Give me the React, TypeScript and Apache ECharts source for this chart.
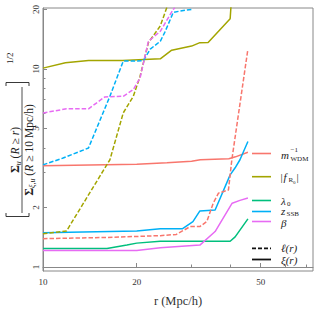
import React, { useEffect, useRef } from 'react';
import * as echarts from 'echarts';

const FONT = '"Liberation Serif", "DejaVu Serif", serif';
const C_WDM = '#F8766D';
const C_FR0 = '#A3A500';
const C_LAM = '#00BF7D';
const C_ZSSB = '#00B0F6';
const C_BETA = '#E76BF3';

const xMajorTicks = [10, 20, 50];
const xMinorTicks = [30, 40, 60, 70];
const yMajorTicks = [1, 2, 5, 10, 20];
const yMinorTicks = [3, 4, 6, 7, 8, 9];

// xi(r) solid lines
const wdmXiR = [10, 20, 25, 30, 32, 39.5, 41.5, 45.5];
const wdmXiV = [3.25, 3.3, 3.36, 3.42, 3.48, 3.52, 3.6, 3.8];
const fr0XiR = [10, 11.8, 14, 18, 23.8, 25.9, 30, 31.9, 33.9, 39.9, 40.4];
const fr0XiV = [10.1, 10.75, 11.04, 11.04, 11.26, 12.45, 13.05, 13.58, 13.6, 17.95, 24];
const lamXiR = [10, 16.05, 18.6, 20, 23.8, 39.9, 41.4, 45.5];
const lamXiV = [1.24, 1.24, 1.29, 1.32, 1.35, 1.35, 1.42, 1.75];
const zssbXiR = [10, 20, 23.8, 28, 30.3, 31.9, 35.7, 39.9, 41.4, 42.9, 45.5];
const zssbXiV = [1.49, 1.52, 1.56, 1.56, 1.695, 1.92, 1.94, 2.92, 3.17, 3.48, 4.3];
const betaXiR = [10, 20, 23.8, 31.9, 35.7, 38.4, 40.5, 42.9, 45.5];
const betaXiV = [1.21, 1.21, 1.25, 1.29, 1.51, 1.83, 2.1, 2.17, 2.23];

// ell(r) dashed lines
const wdmEllR = [10, 16, 23.8, 26.8, 29.7, 31.9, 33.6, 35.2, 36.6, 39.4, 40.4, 45.5];
const wdmEllV = [1.39, 1.41, 1.44, 1.46, 1.6, 1.6, 1.7, 2.1, 2.36, 2.45, 3.48, 12.6];
const fr0EllR = [10, 11.9, 16.4, 18.1, 19.5, 20.5, 21.8, 23.8, 25.0, 25.4];
const fr0EllV = [1.47, 1.52, 3.48, 6.0, 7.28, 9.19, 13.58, 16.5, 20.5, 22];
const zssbEllR = [10, 11.6, 14.0, 16.4, 18.1, 21.0, 22.1, 23.8, 24.6, 26.2, 27.5, 30.0];
const zssbEllV = [3.28, 3.55, 3.99, 7.28, 10.96, 11.0, 12.6, 13.8, 15.3, 19.3, 19.6, 20.0];
const betaEllR = [10, 11.9, 14.0, 15.8, 18.1, 19.5, 20.5, 21.8, 23.8, 26.2, 26.5];
const betaEllV = [6.0, 6.29, 6.29, 7.23, 7.28, 7.87, 9.02, 13.8, 15.5, 20, 20.4];

const X_MIN = 1;
const X_MAX = 1.867;
const Y_MIN = -0.0202;
const Y_MAX = 1.308;

const lg = (v: number) => Math.log10(v);
const pts = (r: number[], v: number[]) => r.map((x, i) => [lg(x), lg(v[i])]);

function lineSeries(name: string, r: number[], v: number[], color: string, dashed: boolean) {
  return {
    name,
    type: 'line',
    data: pts(r, v),
    symbol: 'none',
    clip: true,
    lineStyle: { color, width: 1.5, type: dashed ? [4.5, 2] : 'solid' },
    z: dashed ? 3 : 2,
  };
}

const AXIS_COLOR = '#888';
const LABEL_COLOR = '#333';

function txt(x: number, y: number, text: string, size: number, italic = false, extra: any = {}) {
  return {
    type: 'text',
    x,
    y,
    style: {
      text,
      fontSize: size,
      fontFamily: FONT,
      fontStyle: italic ? 'italic' : 'normal',
      fill: '#222',
      align: 'left',
      verticalAlign: 'middle',
      textAlign: 'left',
      textVerticalAlign: 'middle',
      ...extra,
    },
  };
}

function legLine(y: number, color: string, dashed: boolean, w = 1.6) {
  return {
    type: 'line',
    shape: { x1: 252, y1: y, x2: 271, y2: y },
    style: { stroke: color, lineWidth: w, lineDash: dashed ? [4, 2] : null },
  };
}

const FS = 11.5;
const richBase = {
  t: { fontSize: FS, fontFamily: FONT, lineHeight: 14, fill: '#222' },
  i: { fontSize: FS, fontFamily: FONT, fontStyle: 'italic', lineHeight: 14, fill: '#222' },
  b: { fontSize: FS + 0.5, fontFamily: FONT, fontWeight: 'bold', lineHeight: 14, fill: '#222' },
  subi: { fontSize: 8, fontFamily: FONT, fontStyle: 'italic', lineHeight: 8, verticalAlign: 'bottom', fill: '#222' },
  rel: { fontSize: FS, fontFamily: FONT, lineHeight: 14, fill: '#222', padding: [0, 3, 0, 3] },
};

export default function App() {
  const ref = useRef<HTMLDivElement>(null);
  useEffect(() => {
    if (!ref.current) return;
    const chart = echarts.init(ref.current, null, { renderer: 'svg' });
    const option: any = {
      animation: false,
      grid: {
        left: 43,
        right: 2,
        top: 8,
        bottom: 44,
        show: true,
        borderColor: AXIS_COLOR,
        borderWidth: 1,
        backgroundColor: 'transparent',
      },
      xAxis: [
        {
          type: 'value',
          min: X_MIN,
          max: X_MAX,
          position: 'bottom',
          axisLine: { show: true, lineStyle: { color: AXIS_COLOR, width: 1 } },
          splitLine: { show: false },
          axisTick: {
            show: true,
            inside: true,
            length: 4,
            customValues: xMajorTicks.map(lg),
            lineStyle: { color: AXIS_COLOR },
          },
          axisLabel: {
            customValues: xMajorTicks.map(lg),
            formatter: (v: number) => String(Math.round(Math.pow(10, v))),
            fontFamily: FONT,
            fontSize: 9,
            color: LABEL_COLOR,
            margin: 6,
          },
          name: 'r (Mpc/h)',
          nameLocation: 'middle',
          nameGap: 23,
          nameTextStyle: { fontFamily: FONT, fontSize: 12.5, color: LABEL_COLOR },
        },
        {
          type: 'value',
          min: X_MIN,
          max: X_MAX,
          position: 'bottom',
          axisLine: { show: false },
          splitLine: { show: false },
          axisTick: {
            show: true,
            inside: true,
            length: 2.5,
            customValues: xMinorTicks.map(lg),
            lineStyle: { color: AXIS_COLOR },
          },
          axisLabel: { show: false },
        },
      ],
      yAxis: [
        {
          type: 'value',
          min: Y_MIN,
          max: Y_MAX,
          position: 'left',
          axisLine: { show: true, lineStyle: { color: AXIS_COLOR, width: 1 } },
          splitLine: { show: false },
          axisTick: {
            show: true,
            inside: true,
            length: 4,
            customValues: yMajorTicks.map(lg),
            lineStyle: { color: AXIS_COLOR },
          },
          axisLabel: {
            customValues: yMajorTicks.map(lg),
            formatter: (v: number) => String(Math.round(Math.pow(10, v))),
            fontFamily: FONT,
            fontSize: 9,
            color: LABEL_COLOR,
            rotate: 90,
            margin: 3,
          },
        },
        {
          type: 'value',
          min: Y_MIN,
          max: Y_MAX,
          position: 'left',
          axisLine: { show: false },
          splitLine: { show: false },
          axisTick: {
            show: true,
            inside: true,
            length: 2.5,
            customValues: yMinorTicks.map(lg),
            lineStyle: { color: AXIS_COLOR },
          },
          axisLabel: { show: false },
        },
      ],
      series: [
        lineSeries('wdm xi', wdmXiR, wdmXiV, C_WDM, false),
        lineSeries('fr0 xi', fr0XiR, fr0XiV, C_FR0, false),
        lineSeries('lam xi', lamXiR, lamXiV, C_LAM, false),
        lineSeries('zssb xi', zssbXiR, zssbXiV, C_ZSSB, false),
        lineSeries('beta xi', betaXiR, betaXiV, C_BETA, false),
        lineSeries('wdm ell', wdmEllR, wdmEllV, C_WDM, true),
        lineSeries('fr0 ell', fr0EllR, fr0EllV, C_FR0, true),
        lineSeries('zssb ell', zssbEllR, zssbEllV, C_ZSSB, true),
        lineSeries('beta ell', betaEllR, betaEllV, C_BETA, true),
      ],
      graphic: [
        // legend
        legLine(153.5, C_WDM, false),
        txt(281, 155, 'm', 11, true),
        txt(290.5, 149.5, '−1', 7),
        txt(290.5, 158.5, 'WDM', 7),
        legLine(176.7, C_FR0, false),
        txt(280.5, 177, '|', 11),
        txt(283.5, 177, 'f', 11, true),
        txt(288.5, 180, 'R', 7),
        txt(293, 182, '0', 5),
        txt(296.5, 177, '|', 11),
        legLine(200.5, C_LAM, false),
        txt(281, 200.5, 'λ', 11, true),
        txt(287, 203.5, '0', 7),
        legLine(211.5, C_ZSSB, false),
        txt(281, 211, 'z', 11, true),
        txt(286.5, 214, 'SSB', 7),
        legLine(221.5, C_BETA, false),
        txt(281, 223, 'β', 11, true),
        legLine(248.3, '#111', true, 1.8),
        txt(281, 248.3, 'ℓ(r)', 11, true),
        legLine(259.5, '#111', false, 1.8),
        txt(281, 259.5, 'ξ(r)', 11, true),
        // y-axis label
        {
          type: 'group',
          x: 22,
          y: 150,
          rotation: Math.PI / 2,
          children: [
            {
              type: 'text',
              x: 0,
              y: -7,
              style: {
                text: '{b|Σ}{subi|u}{t| (}{i|R}{rel|≥}{i|r}{t|)}',
                rich: richBase,
                align: 'center',
                verticalAlign: 'middle',
                textAlign: 'center',
                textVerticalAlign: 'middle',
              },
            },
            {
              type: 'line',
              shape: { x1: -63, y1: 0, x2: 63, y2: 0 },
              style: { stroke: '#222', lineWidth: 0.8 },
            },
            {
              type: 'text',
              x: 0,
              y: 7,
              style: {
                text: '{b|Σ}{subi|ξ,u}{t| (}{i|R}{rel|≥}{t|10 Mpc/h)}',
                rich: richBase,
                align: 'center',
                verticalAlign: 'middle',
                textAlign: 'center',
                textVerticalAlign: 'middle',
              },
            },
            {
              type: 'text',
              x: 86,
              y: -12,
              style: {
                text: '1/2',
                fontSize: 9,
                fontFamily: FONT,
                fill: '#222',
                align: 'left',
                verticalAlign: 'middle',
                textAlign: 'left',
                textVerticalAlign: 'middle',
              },
            },
          ],
        },
        {
          type: 'polyline',
          shape: { points: [[6, 213], [6, 216.5], [29, 216.5], [29, 213]] },
          style: { stroke: '#222', lineWidth: 0.9, fill: null },
        },
        {
          type: 'polyline',
          shape: { points: [[6, 86], [6, 82.5], [29, 82.5], [29, 86]] },
          style: { stroke: '#222', lineWidth: 0.9, fill: null },
        },
      ],
    };
    chart.setOption(option);
    return () => chart.dispose();
  }, []);
  return <div ref={ref} style={{ width: 315, height: 315, position: 'absolute', left: 0, top: 0 }} />;
}
